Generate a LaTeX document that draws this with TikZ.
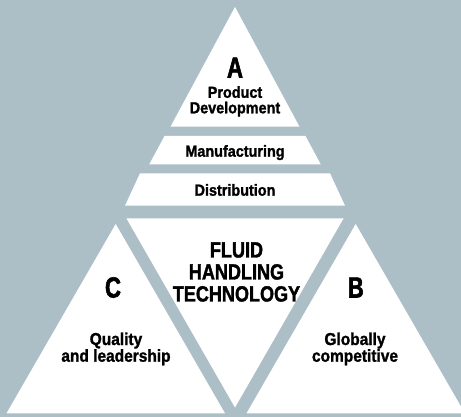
\documentclass[tikz,border=0pt]{standalone}
\usepackage{fontspec}
\newfontfamily\condA{Liberation Sans}[UprightFont={* Bold}, BoldFont={* Bold}, FakeStretch=0.9, FakeBold=1.4]
\newfontfamily\condB{Liberation Sans}[UprightFont={* Bold}, BoldFont={* Bold}, FakeStretch=0.82, FakeBold=1.6]
\newfontfamily\condC{Liberation Sans}[UprightFont={* Bold}, BoldFont={* Bold}, FakeStretch=0.76, FakeBold=2]
\definecolor{bg}{RGB}{172,191,199}
\tikzset{
  panel/.style={fill=white, draw=none},
  lbl/.style={inner sep=0pt, align=center, text=black, font=\condA\fontsize{16}{15.5}\selectfont},
  big/.style={inner sep=0pt, align=center, text=black, font=\condC\fontsize{29}{29}\selectfont},
  core/.style={inner sep=0pt, align=center, text=black, font=\condB\fontsize{22}{22}\selectfont},
  side/.style={inner sep=0pt, align=center, text=black, font=\condA\fontsize{17.2}{16.7}\selectfont}
}
\begin{document}
\begin{tikzpicture}[x=1pt,y=-1pt]
\fill[bg] (0,0) rectangle (461,417);
\useasboundingbox (0,0) rectangle (461,417);
% top triangle A
\fill[panel] (235,7) -- (299.5,126.7) -- (170.5,126.7) -- cycle;
% manufacturing band
\fill[panel] (164.5,136) -- (305.5,136) -- (320.7,164.3) -- (149.3,164.3) -- cycle;
% distribution band
\fill[panel] (140,173.3) -- (330,173.3) -- (345,205.7) -- (125,205.7) -- cycle;
% central inverted triangle
\fill[panel] (126.5,218.5) -- (343.5,218.5) -- (235,407.5) -- cycle;
% C triangle
\fill[panel] (115.7,224) -- (225,413.3) -- (6.5,413.3) -- cycle;
% B triangle
\begin{scope}
\clip (0,0) rectangle (461,417);
\fill[panel] (355.7,224) -- (464.9,413.3) -- (246.5,413.3) -- cycle;
\end{scope}
% texts (base anchor = baseline of the last line)
\node[big, anchor=base] (a) at (235,77.5) {A};
\node[lbl, anchor=base] (pd) at (235,113.3) {Product\\Development};
\node[lbl, anchor=base] (mf) at (235,156.7) {Manufacturing};
\node[lbl, anchor=base] (ds) at (235,195.7) {Distribution};
\node[core, anchor=base] (fht) at (236.5,301.5) {FLUID\\HANDLING\\TECHNOLOGY};
\node[big, anchor=base] (c) at (113,297.5) {C};
\node[big, anchor=base] (b) at (355.8,297.5) {B};
\node[side, anchor=base] (q) at (116,361.7) {Quality\\and leadership};
\node[side, anchor=base] (g) at (355,361.7) {Globally\\competitive};
\end{tikzpicture}
\end{document}
